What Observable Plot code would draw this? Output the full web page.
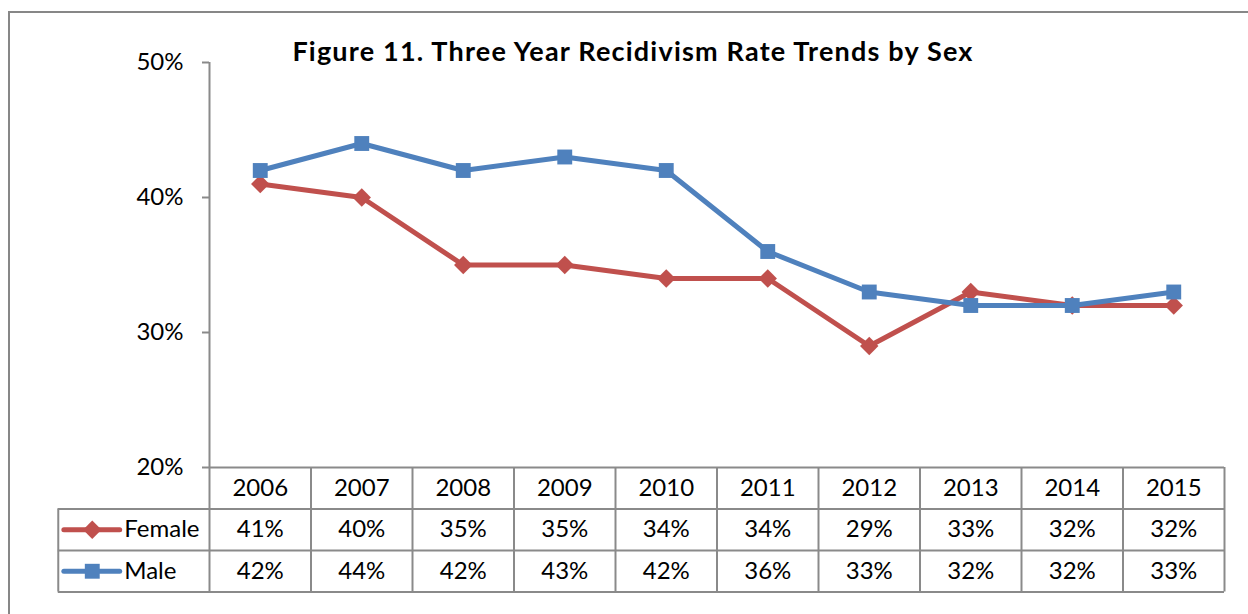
<!DOCTYPE html>
<html>
<head>
<meta charset="utf-8">
<script src="https://cdn.jsdelivr.net/npm/d3@7"></script>
<script src="https://cdn.jsdelivr.net/npm/@observablehq/plot@0.6"></script>
<style>
  html, body { margin: 0; padding: 0; background: #fff; overflow: hidden; }
  #wrap { position: relative; width: 1248px; height: 614px; }
  #border { position: absolute; left: 8px; top: 11px; width: 1400px; height: 800px;
            border-left: 2px solid #878787; border-top: 2px solid #878787; }
  #title { position: absolute; left: 0; width: 1266px; top: 35px; text-align: center;
           font-family: Lato, "Open Sans", sans-serif; font-weight: bold; font-size: 27px;
           letter-spacing: 1.2px; line-height: 32px; color: #000; white-space: nowrap; }
  #chart { position: absolute; left: 0; top: 0; }
</style>
</head>
<body>
<div id="wrap">
  <div id="border"></div>
  <div id="chart"></div>
  <div id="title"></div>
</div>
<script>
// ---- data ----
const titleText = "Figure 11. Three Year Recidivism Rate Trends by Sex";
const years = [2006, 2007, 2008, 2009, 2010, 2011, 2012, 2013, 2014, 2015];
const female = [0.41, 0.40, 0.35, 0.35, 0.34, 0.34, 0.29, 0.33, 0.32, 0.32];
const male   = [0.42, 0.44, 0.42, 0.43, 0.42, 0.36, 0.33, 0.32, 0.32, 0.33];
const seriesNames = ["Female", "Male"];
const seriesColors = ["#C0504D", "#4F81BD"];
const seriesSymbols = ["diamond2", "square"];
const yTicks = [0.2, 0.3, 0.4, 0.5];

// ---- build ----
document.getElementById("title").textContent = titleText;

const seriesValues = [female, male];
const rows = [];
seriesNames.forEach((name, s) => years.forEach((yr, i) =>
  rows.push({series: name, year: yr, value: seriesValues[s][i], color: seriesColors[s]})));

const font = "Lato, 'Open Sans', sans-serif";
const fs = 24;
const grid = "#8a8a8a";
const pct = d3.format(".0%");

// layout (scale units): columns are one year wide; table rows below the 20% line
const xLeft = years[0] - 0.5, xRight = years[years.length - 1] + 0.5;
const xLabelLeft = xLeft - 1.49;         // left edge of the series-name column
const pxPerUnitY = 405 / 0.3;
const rowH = 41.5 / pxPerUnitY;
const rowEdges = [0.2, 0.2 - rowH, 0.2 - 2 * rowH, 0.2 - 3 * rowH];
const rowMid = i => (rowEdges[i] + rowEdges[i + 1]) / 2;

const marks = [
  // axes
  Plot.axisY({ticks: yTicks, tickFormat: pct, tickSize: 7, tickPadding: 19, label: null,
              fontSize: fs, stroke: grid, strokeWidth: 2, fill: "#000"}),
  Plot.ruleX([xLeft], {y1: 0.2, y2: 0.5, stroke: grid, strokeWidth: 2}),
  // table horizontal lines
  Plot.ruleY([rowEdges[0]], {x1: xLeft, x2: xRight, stroke: grid, strokeWidth: 2}),
  Plot.ruleY(rowEdges.slice(1), {x1: xLabelLeft, x2: xRight, stroke: grid, strokeWidth: 2}),
  // table vertical lines
  Plot.ruleX(years.map(y => y - 0.5).concat([xRight]), {y1: rowEdges[0], y2: rowEdges[3], stroke: grid, strokeWidth: 2}),
  Plot.ruleX([xLabelLeft], {y1: rowEdges[1], y2: rowEdges[3], stroke: grid, strokeWidth: 2}),
  // year row
  Plot.text(years, {x: d => d, y: rowMid(0), text: d => String(d), fontSize: fs,
                    fontFamily: font, fill: "#000"}),
];

seriesNames.forEach((name, s) => {
  const data = rows.filter(r => r.series === name);
  const ry = rowMid(s + 1);
  marks.push(
    Plot.line(data, {x: "year", y: "value", stroke: seriesColors[s], strokeWidth: 5,
                     strokeLinejoin: "round", strokeLinecap: "round"}),
    Plot.dot(data, {x: "year", y: "value", symbol: seriesSymbols[s], r: s === 0 ? 8.3 : 8.4,
                    fill: seriesColors[s], stroke: "none"}),
    // table values
    Plot.text(data, {x: "year", y: ry, text: d => pct(d.value), fontSize: fs,
                     fontFamily: font, fill: "#000"}),
    // legend key in table
    Plot.ruleY([ry], {x1: xLabelLeft + 0.06, x2: xLabelLeft + 0.61, stroke: seriesColors[s],
                      strokeWidth: 5, strokeLinecap: "round"}),
    Plot.dot([name], {x: xLabelLeft + 0.335, y: ry, symbol: seriesSymbols[s],
                      r: s === 0 ? 8.3 : 8.4, fill: seriesColors[s], stroke: "none"}),
    Plot.text([name], {x: xLabelLeft, y: ry, dx: 66, text: d => d, textAnchor: "start",
                       fontSize: fs, fontFamily: font, fill: "#000"})
  );
});

const chart = Plot.plot({
  width: 1248, height: 614,
  marginLeft: 209, marginRight: 24, marginTop: 62, marginBottom: 147,
  style: {fontFamily: font, fontSize: fs + "px", background: "transparent", overflow: "visible"},
  x: {type: "linear", domain: [xLeft, xRight], axis: null},
  y: {type: "linear", domain: [0.2, 0.5], axis: null},
  marks
});
document.getElementById("chart").appendChild(chart);
</script>
</body>
</html>
